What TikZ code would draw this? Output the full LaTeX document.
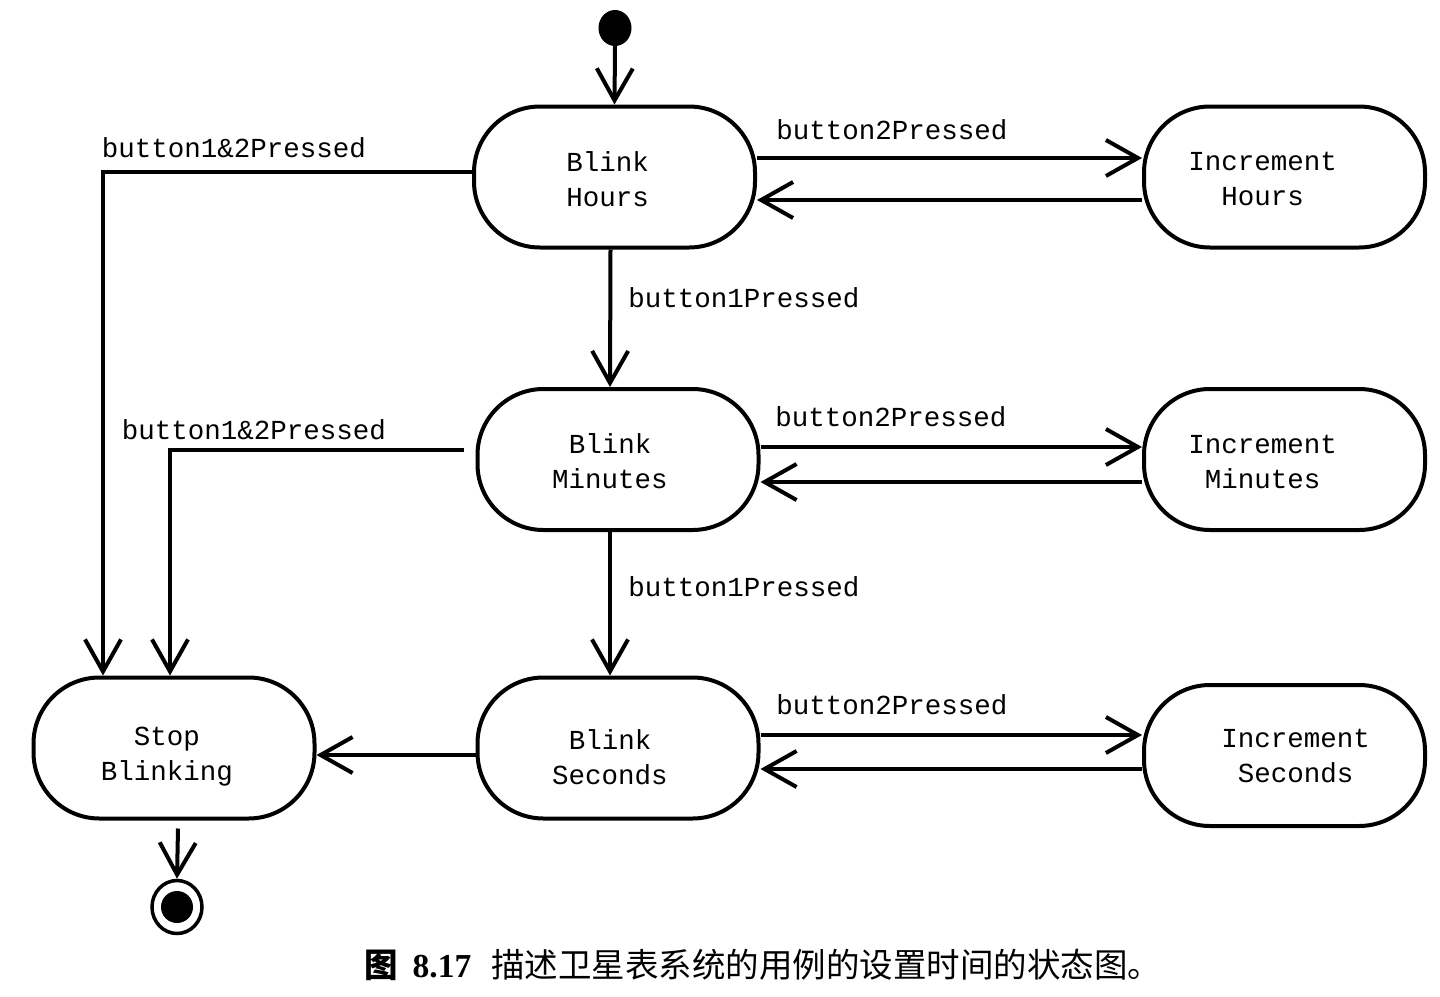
\documentclass[tikz,border=0pt]{standalone}
\usepackage{fontspec}
\setmonofont{Liberation Mono}
\newfontfamily\cjk{Noto Sans CJK SC}
\newfontfamily\capserif{Liberation Serif}
\usetikzlibrary{arrows.meta,shapes.geometric}
\begin{document}
\begin{tikzpicture}[x=1pt,y=1pt,
  state/.style={draw,line width=4pt,rounded corners=66pt,minimum width=281pt,
    minimum height=141pt,inner sep=0pt},
  stext/.style={align=center,font=\fontsize{27.5}{35}\selectfont\ttfamily,inner sep=0pt},
  lbl/.style={font=\fontsize{27.5}{33}\selectfont\ttfamily,inner sep=0pt},
  arr/.style={line width=4pt,-{Straight Barb[length=32pt,width=36pt]}}]
\useasboundingbox[fill=white] (0,0) rectangle (1440,-996);

% states
\node[state] (bh) at (614.5,-177) {};
\node[state] (ih) at (1284.5,-177) {};
\node[state] (bm) at (618,-459.5) {};
\node[state] (im) at (1284.5,-459.5) {};
\node[state] (bs) at (618,-748) {};
\node[state] (is) at (1284.5,-755.5) {};
\node[state] (sb) at (174,-748) {};

% state names
\node[stext] (tbh) at ([xshift=-7pt,yshift=-2pt]bh.center) {Blink\\Hours};
\node[stext] (tih) at ([xshift=-22pt,yshift=-2pt]ih.center) {Increment\\Hours};
\node[stext] (tbm) at ([xshift=-8pt,yshift=-2pt]bm.center) {Blink\\Minutes};
\node[stext] (tim) at ([xshift=-22pt,yshift=-2pt]im.center) {Increment\\Minutes};
\node[stext] (tbs) at ([xshift=-8pt,yshift=-9pt]bs.center) {Blink\\Seconds};
\node[stext] (tis) at ([xshift=11pt,yshift=-1pt]is.center) {Increment\\Seconds};
\node[stext] (tsb) at ([xshift=-7pt,yshift=-9pt]sb.center) {Stop\\Blinking};

% initial and final pseudo-states
\node[ellipse,fill=black,minimum width=33pt,minimum height=36pt,inner sep=0pt] (start) at (615,-28) {};
\node[ellipse,draw,line width=3.5pt,minimum width=50pt,minimum height=53pt,inner sep=0pt] (stop) at (177,-907) {};
\fill (stop.center) circle (16pt);

\draw[arr] (start.south) -- (bh.north);
\draw[arr] ([xshift=4pt,yshift=-8pt]sb.south) -- (stop.north);

% hours
\draw[arr] ([yshift=19pt]bh.east) -- ([yshift=19pt]bh.east -| ih.west);
\draw[arr] ([yshift=-23pt]ih.west) -- ([yshift=-23pt]ih.west -| bh.east);
\draw[arr] ([xshift=-4pt]bh.south) -- ([xshift=-8pt]bm.north);
\draw[arr] ([yshift=5pt]bh.west) -| ([xshift=-71pt]sb.north);

% minutes
\draw[arr] ([yshift=12.5pt]bm.east) -- ([yshift=12.5pt]bm.east -| im.west);
\draw[arr] ([yshift=-22.5pt]im.west) -- ([yshift=-22.5pt]im.west -| bm.east);
\draw[arr] ([xshift=-8pt]bm.south) -- ([xshift=-8pt]bs.north);
\draw[arr] ([xshift=-12pt,yshift=9.5pt]bm.west) -| ([xshift=-4pt]sb.north);

% seconds
\draw[arr] ([yshift=13pt]bs.east) -- ([yshift=13pt]bs.east -| is.west);
\draw[arr] ([yshift=-21pt]bs.east -| is.west) -- ([yshift=-21pt]bs.east);
\draw[arr] ([yshift=-7pt]bs.west) -- ([yshift=-7pt]sb.east);

% transition labels
\node[lbl] (l1) at (892,-130) {button2Pressed};
\node[lbl] (l2) at (891,-417) {button2Pressed};
\node[lbl] (l3) at (892,-705) {button2Pressed};
\node[lbl] (l4) at (744,-298) {button1Pressed};
\node[lbl] (l5) at (744,-587) {button1Pressed};
\node[lbl] (l6) at (234,-148) {button1\&2Pressed};
\node[lbl] (l7) at (254,-430) {button1\&2Pressed};

% caption
\node[inner sep=0pt,anchor=west] (cap) at (364,-965) {\fontsize{33.5}{38}\selectfont{\cjk\bfseries 图}\hspace{15pt}{\capserif\bfseries 8.17}\hspace{20pt}{\cjk 描述卫星表系统的用例的设置时间的状态图。}};
\end{tikzpicture}
\end{document}
